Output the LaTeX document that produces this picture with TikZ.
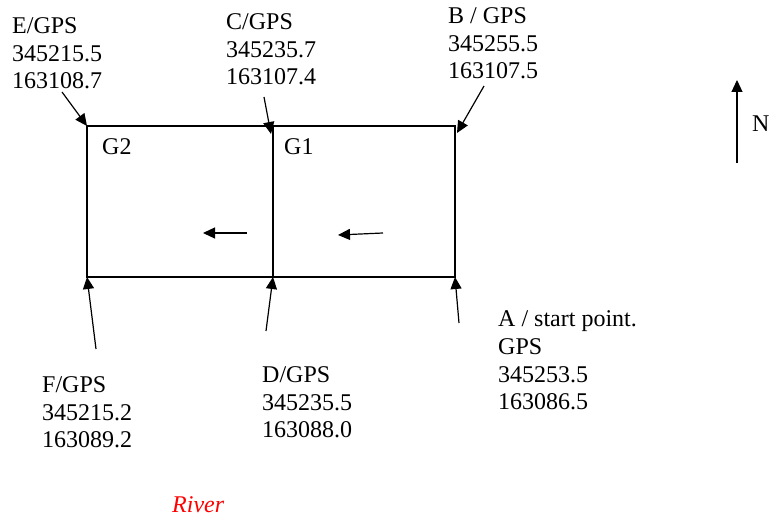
\documentclass[tikz,border=0pt]{standalone}
\usepackage{fontspec}
\setmainfont{Liberation Serif}
\usetikzlibrary{arrows.meta}
\begin{document}
\begin{tikzpicture}[x=1pt,y=-1pt,
  lbl/.style={anchor=base west,inner sep=0pt,align=left,font=\fontsize{24}{27.5}\selectfont},
  ptr/.style={line width=1.2pt,-{Triangle[length=12pt,width=11pt]}},
  edge/.style={line width=1.2pt}]
\useasboundingbox (0,0) rectangle (769,518);
% corners
\coordinate (E) at (87,126);
\coordinate (C) at (273,126);
\coordinate (B) at (455,126);
\coordinate (F) at (87,277);
\coordinate (D) at (273,277);
\coordinate (A) at (455,277);
\draw[edge] (E) -- (B) -- (A) -- (F) -- cycle;
\draw[edge] (C) -- (D);
% region labels
\node[lbl] (g2) at (102,155) {G2};
\node[lbl] (g1) at (284,155) {G1};
% direction arrows
\coordinate (g2s) at (247,233); \coordinate (g2e) at (203,233);
\coordinate (g1s) at (383,233); \coordinate (g1e) at (338,235);
\draw[ptr] (g2s) -- (g2e);
\draw[ptr] (g1s) -- (g1e);
% point labels (anchor = baseline of last line)
\node[lbl] (Et) at (12,89) {E/GPS\\345215.5\\163108.7};
\node[lbl] (Ct) at (226,85) {C/GPS\\345235.7\\163107.4};
\node[lbl] (Bt) at (448,79) {B / GPS\\345255.5\\163107.5};
\node[lbl] (Ft) at (42,448) {F/GPS\\345215.2\\163089.2};
\node[lbl] (Dt) at (262,438) {D/GPS\\345235.5\\163088.0};
\node[lbl,font=\fontsize{24}{27.8}\selectfont] (At) at (498,410) {A / start point.\\GPS\\345253.5\\163086.5};
% pointer arrows
\coordinate (Es) at (62,92);
\coordinate (Cs) at (264,97);
\coordinate (Bs) at (484,86);
\coordinate (Fs) at (96,349);
\coordinate (Ds) at (266,331);
\coordinate (As) at (459,323);
\draw[ptr] (Es) -- (E);
\draw[ptr] (Cs) -- ([xshift=-2pt,yshift=-8pt]C);
\draw[ptr] (Bs) -- ([xshift=2pt,yshift=-7pt]B);
\draw[ptr] (Fs) -- (F);
\draw[ptr] (Ds) -- (D);
\draw[ptr] (As) -- (A);
% north arrow
\coordinate (Ns) at (737,163);
\coordinate (Ne) at (737,80);
\draw[ptr] (Ns) -- (Ne);
\node[lbl] (N) at (752,132) {N};
% river
\node[lbl,text=red,font=\fontsize{24}{27}\selectfont\itshape] (river) at (172,513) {River};
\end{tikzpicture}
\end{document}
